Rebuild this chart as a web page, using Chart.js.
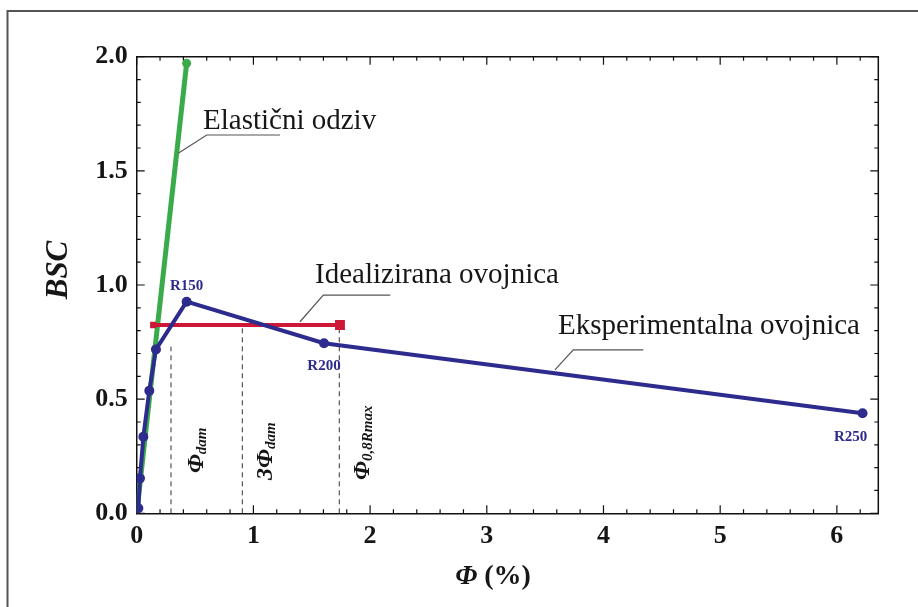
<!DOCTYPE html>
<html>
<head>
<meta charset="utf-8">
<script src="https://cdn.jsdelivr.net/npm/chart.js@4/dist/chart.umd.min.js"></script>
<style>
  html, body { margin: 0; padding: 0; background: #fff; }
  #wrap { width: 918px; height: 607px; position: relative; }
</style>
</head>
<body>
<div id="wrap"><canvas id="c" width="918" height="607"></canvas></div>
<script>
// Experimental envelope: drift (%) and base shear coefficient
const expDrift = [0.014, 0.028, 0.057, 0.108, 0.165, 0.428, 1.605, 6.22];
const expBSC   = [0.022, 0.153, 0.335, 0.537, 0.718, 0.927, 0.745, 0.438];
const expTags  = ['', '', '', '', '', 'R150', 'R200', 'R250'];

// Elastic response
const elDrift = [0, 0.428];
const elBSC   = [0, 1.971];

// Idealised (bilinear) envelope
const idDrift = [0.142, 1.742];
const idBSC   = [0.825, 0.825];

// Characteristic drifts marked with dashed verticals
const markDrift = [0.294, 0.905, 1.736];
const markTop   = [0.73, 0.82, 0.82];

// Axis tick labels
const xTicks = [0, 1, 2, 3, 4, 5, 6];
const yTicks = [0, 0.5, 1.0, 1.5, 2.0];

const SERIF = "'Liberation Serif', 'Times New Roman', serif";
const BLUE = '#2e2b8e';
const GREEN = '#3aab4a';
const RED = '#cc1737';
const INK = '#161616';

const pts = (xs, ys) => xs.map((x, i) => ({ x, y: ys[i] }));

// White page with a grey frame running off the right and bottom edges
const framePlugin = {
  id: 'frame',
  beforeDraw(chart) {
    const c = chart.ctx;
    c.save();
    c.fillStyle = '#fff';
    c.fillRect(0, 0, chart.width, chart.height);
    c.strokeStyle = '#555';
    c.lineWidth = 2;
    c.strokeRect(7.5, 11, 1000, 1000);
    c.restore();
  }
};

// Closed plot box with inward-pointing ticks on all four sides
const boxPlugin = {
  id: 'box',
  beforeDatasetsDraw(chart) {
    const c = chart.ctx, a = chart.chartArea;
    const xs = chart.scales.x, ys = chart.scales.y;
    c.save();
    c.strokeStyle = '#111';
    c.lineWidth = 1.5;
    c.beginPath();
    c.moveTo(a.left, a.top); c.lineTo(a.right, a.top); c.lineTo(a.right, a.bottom);
    c.stroke();
    c.lineWidth = 1.2;
    c.beginPath();
    for (let k = 0; k <= 31; k++) {
      const v = k * 0.2;
      const p = xs.getPixelForValue(v);
      if (p > a.right - 1) break;
      const len = (k % 5 === 0) ? 8 : 4;
      c.moveTo(p, a.bottom); c.lineTo(p, a.bottom - len);
      c.moveTo(p, a.top); c.lineTo(p, a.top + len);
    }
    for (let k = 0; k <= 20; k++) {
      const p = ys.getPixelForValue(k * 0.1);
      const len = (k % 5 === 0) ? 8 : 4;
      c.moveTo(a.left, p); c.lineTo(a.left + len, p);
      c.moveTo(a.right, p); c.lineTo(a.right - len, p);
    }
    c.stroke();
    c.restore();
  }
};

// Rotated label: main symbol followed by a subscript, reading upwards
function rotatedSymbol(c, x, y, prefix, sym, sub) {
  c.save();
  c.translate(x, y);
  c.rotate(-Math.PI / 2);
  c.textBaseline = 'middle';
  c.textAlign = 'left';
  c.fillStyle = INK;
  let off = 0;
  c.font = 'italic bold 24px ' + SERIF;
  if (prefix) { c.fillText(prefix, off, 0); off += c.measureText(prefix).width; }
  c.fillText(sym, off, 0);
  off += c.measureText(sym).width;
  c.font = 'italic bold 15px ' + SERIF;
  c.fillText(sub, off, 5);
  c.restore();
}

// Texts, leader lines and point tags
const notesPlugin = {
  id: 'notes',
  afterDatasetsDraw(chart) {
    const c = chart.ctx;
    const xs = chart.scales.x, ys = chart.scales.y;
    const X = v => xs.getPixelForValue(v), Y = v => ys.getPixelForValue(v);
    c.save();

    // leader lines
    c.strokeStyle = '#555';
    c.lineWidth = 1.2;
    const leaders = [
      [[0.356, 1.577], [0.600, 1.657], [1.228, 1.657]],
      [[1.399, 0.839], [1.599, 0.956], [2.173, 0.956]],
      [[3.584, 0.628], [3.741, 0.716], [4.341, 0.716]]
    ];
    leaders.forEach(l => {
      c.beginPath();
      c.moveTo(X(l[0][0]), Y(l[0][1]));
      c.lineTo(X(l[1][0]), Y(l[1][1]));
      c.lineTo(X(l[2][0]), Y(l[2][1]));
      c.stroke();
    });

    // series names
    c.fillStyle = INK;
    c.font = '29px ' + SERIF;
    c.textAlign = 'left';
    c.textBaseline = 'alphabetic';
    c.fillText('Elastični odziv', X(0.568), Y(1.683));
    c.fillText('Idealizirana ovojnica', X(1.528), Y(1.007));
    c.fillText('Eksperimentalna ovojnica', X(3.610), Y(0.785));

    // drift-level tags on the experimental points
    c.fillStyle = BLUE;
    c.font = 'bold 15px ' + SERIF;
    c.textAlign = 'center';
    c.textBaseline = 'middle';
    const tagOffset = { R150: [0, -16], R200: [0, 23], R250: [-12, 24] };
    expTags.forEach((t, i) => {
      if (!t) return;
      const o = tagOffset[t] || [0, -16];
      c.fillText(t, X(expDrift[i]) + o[0], Y(expBSC[i]) + o[1]);
    });

    // characteristic drift symbols
    rotatedSymbol(c, X(0.517), Y(0.176), '', 'Φ', 'dam');
    rotatedSymbol(c, X(1.108), Y(0.146), '3', 'Φ', 'dam');
    rotatedSymbol(c, X(1.94), Y(0.146), '', 'Φ', '0,8Rmax');

    // axis titles
    c.fillStyle = INK;
    c.save();
    c.translate(59, 270);
    c.rotate(-Math.PI / 2);
    c.font = 'italic bold 31px ' + SERIF;
    c.textAlign = 'center';
    c.textBaseline = 'middle';
    c.fillText('BSC', 0, 0);
    c.restore();

    c.textAlign = 'left';
    c.textBaseline = 'middle';
    c.font = 'italic bold 28px ' + SERIF;
    const wPhi = c.measureText('Φ').width;
    c.font = 'bold 28px ' + SERIF;
    const wRest = c.measureText(' (%)').width;
    const x0 = 493 - (wPhi + wRest) / 2;
    c.font = 'italic bold 28px ' + SERIF;
    c.fillText('Φ', x0, 577);
    c.font = 'bold 28px ' + SERIF;
    c.fillText(' (%)', x0 + wPhi, 577);

    c.restore();
  }
};

const tickFont = { family: SERIF, size: 26, weight: 'bold', lineHeight: 1 };

new Chart(document.getElementById('c'), {
  type: 'scatter',
  data: {
    datasets: [
      {
        data: pts(expDrift, expBSC), showLine: true, tension: 0,
        borderColor: BLUE, backgroundColor: BLUE, borderWidth: 4,
        pointRadius: 5, pointBorderWidth: 0
      },
      {
        data: pts(idDrift, idBSC), showLine: true,
        borderColor: RED, backgroundColor: RED, borderWidth: 4,
        pointStyle: 'rect', pointRadius: [4.5, 7], pointBorderWidth: 0
      },
      {
        data: pts(elDrift, elBSC), showLine: true,
        borderColor: GREEN, backgroundColor: GREEN, borderWidth: 5,
        pointRadius: [0, 4.5], pointBorderWidth: 0
      },
      ...markDrift.map((x, i) => ({
        data: [{ x, y: 0 }, { x, y: markTop[i] }], showLine: true,
        borderColor: '#333', borderWidth: 1, borderDash: [5, 4], pointRadius: 0
      }))
    ]
  },
  options: {
    responsive: false,
    animation: false,
    events: [],
    layout: { padding: { top: 56.7, right: 39.7, left: 0, bottom: 0 } },
    plugins: { legend: { display: false }, tooltip: { enabled: false } },
    scales: {
      x: {
        type: 'linear', min: 0, max: 6.355,
        afterBuildTicks: s => { s.ticks = xTicks.map(v => ({ value: v })); },
        afterFit: s => { s.height = 93.7; },
        grid: { display: false, drawTicks: false },
        border: { display: true, color: '#111', width: 1.5 },
        ticks: { font: tickFont, color: INK, padding: 10, maxRotation: 0,
                 callback: v => String(v) }
      },
      y: {
        type: 'linear', min: 0, max: 2,
        afterBuildTicks: s => { s.ticks = yTicks.map(v => ({ value: v })); },
        afterFit: s => { s.width = 136.7; },
        grid: { display: false, drawTicks: false },
        border: { display: true, color: '#111', width: 1.5 },
        ticks: { font: tickFont, color: INK, padding: 9,
                 callback: v => Number(v).toFixed(1) }
      }
    }
  },
  plugins: [framePlugin, boxPlugin, notesPlugin]
});
</script>
</body>
</html>
